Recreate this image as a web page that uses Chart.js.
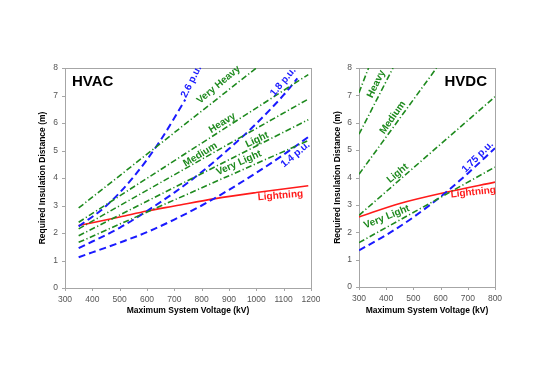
<!DOCTYPE html>
<html>
<head>
<meta charset="utf-8">
<script src="https://cdn.jsdelivr.net/npm/chart.js@4.4.0/dist/chart.umd.min.js"></script>
<style>
  html, body { margin: 0; padding: 0; background: #ffffff; }
  body { width: 538px; height: 381px; position: relative; overflow: hidden; font-family: "Liberation Sans", Arial, sans-serif; }
  .box { position: absolute; }
  #acBox { left: 30px; top: 60px; width: 290px; height: 265px; }
  #dcBox { left: 325px; top: 60px; width: 190px; height: 265px; }
</style>
</head>
<body>
<div id="acBox" class="box"><canvas id="ac"></canvas></div>
<div id="dcBox" class="box"><canvas id="dc"></canvas></div>
<script>
// ---------------- DATA ----------------
// HVAC panel
const acXTicks = [300, 400, 500, 600, 700, 800, 900, 1000, 1100, 1200];
const acLightningKV = [350, 500, 600, 700, 850, 1000, 1190];
const acLightningM  = [2.27, 2.58, 2.80, 2.98, 3.25, 3.47, 3.72];
const ac14puKV = [350, 500, 600, 700, 800, 900, 1000, 1100, 1190];
const ac14puM  = [1.12, 1.65, 2.03, 2.49, 3.00, 3.57, 4.19, 4.85, 5.49];
const ac18puKV = [350, 500, 600, 700, 800, 900, 1000, 1100, 1150];
const ac18puM  = [1.45, 2.19, 2.80, 3.47, 4.22, 5.06, 5.98, 7.02, 7.62];
const ac26puKV = [350, 450, 550, 650, 740];
const ac26puM  = [2.24, 2.98, 4.03, 5.38, 6.85];
const acVeryHeavyKV = [350, 1000];
const acVeryHeavyM  = [2.91, 8.00];
const acHeavyKV = [350, 1190];
const acHeavyM  = [2.39, 7.76];
const acMediumKV = [350, 1190];
const acMediumM  = [2.15, 6.87];
const acLightKV = [350, 1190];
const acLightM  = [1.90, 6.12];
const acVeryLightKV = [350, 1190];
const acVeryLightM  = [1.66, 5.36];

// HVDC panel
const dcXTicks = [300, 400, 500, 600, 700, 800];
const dcLightningKV = [300, 450, 620, 800];
const dcLightningM  = [2.56, 3.05, 3.46, 3.83];
const dc175puKV = [300, 400, 500, 620, 700, 800];
const dc175puM  = [1.34, 1.90, 2.55, 3.46, 4.15, 5.07];
const dcTopKV = [300, 335];
const dcTopM  = [7.10, 8.00];
const dcHeavyKV = [300, 425];
const dcHeavyM  = [5.58, 8.00];
const dcMediumKV = [300, 585];
const dcMediumM  = [4.12, 8.00];
const dcLightKV = [300, 800];
const dcLightM  = [2.62, 6.95];
const dcVeryLightKV = [300, 800];
const dcVeryLightM  = [1.62, 4.38];

const yTicks = [0, 1, 2, 3, 4, 5, 6, 7, 8];

// ---------------- STYLE ----------------
const BLUE = '#1a1aff';
const GREEN = '#1e8a1e';
const RED = '#ff1a1a';
const FONT = '"Liberation Sans", Arial, sans-serif';

function pts(xs, ys) { return xs.map((x, i) => ({ x: x, y: ys[i] })); }

function blue(xs, ys) {
  return { data: pts(xs, ys), borderColor: BLUE, borderWidth: 2, borderDash: [7, 4], pointRadius: 0, showLine: true, cubicInterpolationMode: 'monotone' };
}
function green(xs, ys) {
  return { data: pts(xs, ys), borderColor: GREEN, borderWidth: 1.6, borderDash: [6, 2.5, 1.2, 2.5], pointRadius: 0, showLine: true, tension: 0 };
}
function red(xs, ys) {
  return { data: pts(xs, ys), borderColor: RED, borderWidth: 1.6, pointRadius: 0, showLine: true, cubicInterpolationMode: 'monotone' };
}

// labels: text, anchor in data units, angle (deg), colour
const acLabels = [
  { t: '2.6 p.u.', x: 762, y: 7.5, a: -63, c: BLUE },
  { t: 'Very Heavy', x: 862, y: 7.39, a: -40, c: GREEN },
  { t: '1.8 p.u.', x: 1098, y: 7.5, a: -50, c: BLUE },
  { t: 'Heavy', x: 875, y: 6.0, a: -32, c: GREEN },
  { t: 'Medium', x: 795, y: 4.85, a: -31, c: GREEN },
  { t: 'Light', x: 1003, y: 5.39, a: -25, c: GREEN },
  { t: 'Very Light', x: 936, y: 4.55, a: -24, c: GREEN },
  { t: '1.4 p.u.', x: 1143, y: 4.85, a: -40, c: BLUE },
  { t: 'Lightning', x: 1088, y: 3.36, a: -5, c: RED }
];
const dcLabels = [
  { t: 'Heavy', x: 363, y: 7.41, a: -64, c: GREEN },
  { t: 'Medium', x: 424, y: 6.19, a: -55, c: GREEN },
  { t: 'Light', x: 442, y: 4.15, a: -40, c: GREEN },
  { t: 'Very Light', x: 402, y: 2.56, a: -22, c: GREEN },
  { t: '1.75 p.u.', x: 736, y: 4.75, a: -45, c: BLUE },
  { t: 'Lightning', x: 720, y: 3.46, a: -6, c: RED }
];

const framePlugin = {
  id: 'frame',
  beforeDatasetsDraw(chart) {
    const a = chart.chartArea, ctx = chart.ctx;
    ctx.save();
    ctx.strokeStyle = '#a6a6a6';
    ctx.lineWidth = 1;
    ctx.strokeRect(Math.round(a.left) + 0.5, Math.round(a.top) + 0.5, Math.round(a.right - a.left), Math.round(a.bottom - a.top));
    ctx.restore();
  }
};

const labelPlugin = {
  id: 'lineLabels',
  afterDatasetsDraw(chart, args, opts) {
    const ctx = chart.ctx, xs = chart.scales.x, ys = chart.scales.y;
    ctx.save();
    ctx.font = 'bold 10px ' + FONT;
    ctx.textAlign = 'center';
    ctx.textBaseline = 'middle';
    (opts.items || []).forEach(l => {
      const px = xs.getPixelForValue(l.x), py = ys.getPixelForValue(l.y);
      ctx.save();
      ctx.translate(px, py);
      ctx.rotate(l.a * Math.PI / 180);
      ctx.fillStyle = l.c;
      ctx.fillText(l.t, 0, 0);
      ctx.restore();
    });
    if (opts.title) {
      ctx.font = 'bold 15px ' + FONT;
      ctx.fillStyle = '#000';
      ctx.textAlign = opts.title.align;
      ctx.textBaseline = 'alphabetic';
      const a = chart.chartArea;
      const tx = opts.title.align === 'left' ? a.left + opts.title.dx : a.right - opts.title.dx;
      ctx.fillText(opts.title.text, tx, a.top + opts.title.dy);
    }
    ctx.restore();
  }
};

const tickPlugin = {
  id: 'tickMarks',
  beforeDatasetsDraw(chart) {
    const ctx = chart.ctx, xs = chart.scales.x, ys = chart.scales.y, a = chart.chartArea;
    ctx.save();
    ctx.strokeStyle = '#a6a6a6';
    ctx.lineWidth = 1;
    ctx.beginPath();
    xs.ticks.forEach(t => {
      const px = Math.round(xs.getPixelForValue(t.value)) + 0.5;
      ctx.moveTo(px, a.bottom); ctx.lineTo(px, a.bottom + 3);
    });
    ys.ticks.forEach(t => {
      const py = Math.round(ys.getPixelForValue(t.value)) + 0.5;
      ctx.moveTo(a.left - 3, py); ctx.lineTo(a.left, py);
    });
    ctx.stroke();
    ctx.restore();
  }
};

function makeOptions(xMin, xMax, xTicks, yWidth, xHeight, pad, labels, title) {
  return {
    responsive: true,
    maintainAspectRatio: false,
    animation: false,
    events: [],
    layout: { padding: pad },
    plugins: {
      legend: { display: false },
      tooltip: { enabled: false },
      lineLabels: { items: labels, title: title }
    },
    scales: {
      x: {
        type: 'linear', min: xMin, max: xMax,
        afterBuildTicks: s => { s.ticks = xTicks.map(v => ({ value: v })); },
        afterFit: s => { s.height = xHeight; s.paddingLeft = 0; s.paddingRight = 0; },
        grid: { display: false, tickLength: 3 },
        border: { display: false },
        ticks: { color: '#555', font: { size: 8.5, family: FONT }, padding: 4, maxRotation: 0, autoSkip: false, callback: v => String(v) },
        title: { display: true, text: 'Maximum System Voltage (kV)', color: '#000', font: { size: 8.5, weight: 'bold', family: FONT }, padding: { top: 0, bottom: 9 } }
      },
      y: {
        type: 'linear', min: 0, max: 8,
        afterBuildTicks: s => { s.ticks = yTicks.map(v => ({ value: v })); },
        afterFit: s => { s.width = yWidth; s.paddingTop = 0; s.paddingBottom = 0; },
        grid: { display: false, tickLength: 3 },
        border: { display: false },
        ticks: { color: '#555', font: { size: 8.5, family: FONT }, padding: 4, autoSkip: false, callback: v => String(v) },
        title: { display: true, text: 'Required Insulation Distance (m)', color: '#000', font: { size: 8.5, weight: 'bold', family: FONT }, padding: { top: 8, bottom: 0 } }
      }
    }
  };
}

new Chart(document.getElementById('ac'), {
  type: 'scatter',
  data: {
    datasets: [
      green(acVeryHeavyKV, acVeryHeavyM),
      green(acHeavyKV, acHeavyM),
      green(acMediumKV, acMediumM),
      green(acLightKV, acLightM),
      green(acVeryLightKV, acVeryLightM),
      blue(ac26puKV, ac26puM),
      blue(ac18puKV, ac18puM),
      blue(ac14puKV, ac14puM),
      red(acLightningKV, acLightningM)
    ]
  },
  options: makeOptions(300, 1200, acXTicks, 35, 37, { top: 8, right: 9, left: 0, bottom: 0 }, acLabels,
    { text: 'HVAC', align: 'left', dx: 7, dy: 18 }),
  plugins: [framePlugin, tickPlugin, labelPlugin]
});

new Chart(document.getElementById('dc'), {
  type: 'scatter',
  data: {
    datasets: [
      green(dcTopKV, dcTopM),
      green(dcHeavyKV, dcHeavyM),
      green(dcMediumKV, dcMediumM),
      green(dcLightKV, dcLightM),
      green(dcVeryLightKV, dcVeryLightM),
      blue(dc175puKV, dc175puM),
      red(dcLightningKV, dcLightningM)
    ]
  },
  options: makeOptions(300, 800, dcXTicks, 34, 38, { top: 8, right: 20, left: 0, bottom: 0 }, dcLabels,
    { text: 'HVDC', align: 'right', dx: 8, dy: 18 }),
  plugins: [framePlugin, tickPlugin, labelPlugin]
});
</script>
</body>
</html>
